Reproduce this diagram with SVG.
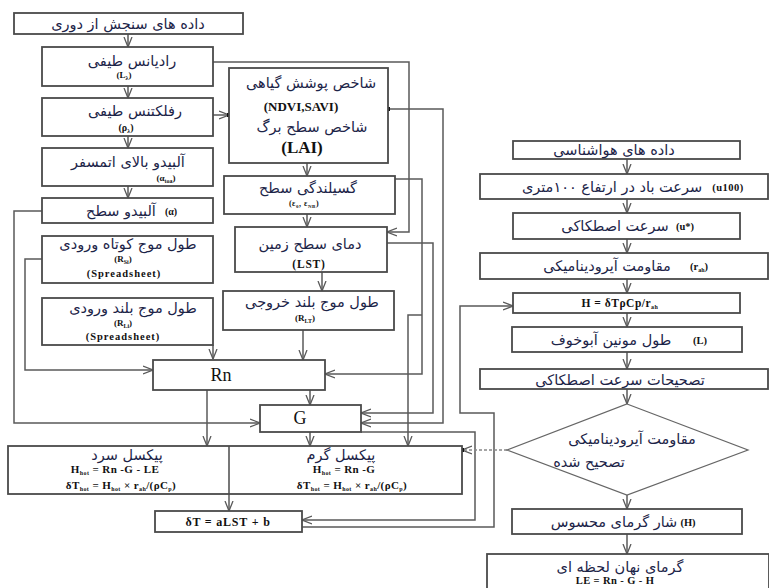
<svg xmlns="http://www.w3.org/2000/svg" width="769" height="588" viewBox="0 0 769 588">
<style>
.bx{fill:#fff;stroke:#4a4a4a;stroke-width:1.8}
.ar{fill:none;stroke:#5a5a5a;stroke-width:1.5;marker-end:url(#a)}
.fa{font-family:"DejaVu Sans",sans-serif;fill:#1c2448;text-anchor:middle;font-size:14.5px}
.la{font-family:"Liberation Serif",serif;font-weight:bold;fill:#111;text-anchor:middle}
.big{font-family:"Liberation Serif",serif;fill:#111;text-anchor:middle;font-size:18px}
</style>
<defs>
<marker id="a" viewBox="0 0 10 10" refX="10" refY="5" markerWidth="10" markerHeight="10" markerUnits="userSpaceOnUse" orient="auto">
<path d="M0,1 L10,5 L0,9" fill="none" stroke="#5a5a5a" stroke-width="1.3"/>
</marker>
</defs>
<rect width="769" height="588" fill="#fff"/>

<g id="connectors">
<path class="ar" d="M128,34 V47"/>
<path class="ar" d="M128,86 V98"/>
<path class="ar" d="M128,136 V148"/>
<path class="ar" d="M128,186 V198"/>
<path class="ar" d="M213,62 H409 V232 H387"/>
<path class="ar" d="M213,115 H229"/>
<path class="ar" d="M307,163 V176"/>
<path class="ar" d="M307,214 V227"/>
<path class="ar" d="M322,272 V291"/>
<path class="ar" d="M303,330 V360"/>
<path class="ar" d="M213,345 V359"/>
<path class="ar" d="M42,259 H25 V370 H153"/>
<path class="ar" d="M42,211 H14 V423 H260"/>
<path class="ar" d="M395,179 H422 V374 H325"/>
<path class="ar" d="M387,243 H433 V413 H361"/>
<path class="ar" d="M388,109 H443 V423 H361"/>
<path class="ar" d="M422,315 H408 V446"/>
<path class="ar" d="M310,390 V405"/>
<path class="ar" d="M207,390 V446"/>
<path class="ar" d="M310,432 V446"/>
<path class="ar" d="M229,446 V511"/>
<path class="ar" d="M361,432 H475 V520 H302"/>
<path class="ar" d="M302,527 H494 V413 H460 V306 H513"/>
<path class="ar" d="M507,450 H462" stroke-dasharray="3,2" style="stroke:#888"/>
<path class="ar" d="M627,159 V174"/>
<path class="ar" d="M627,199 V213"/>
<path class="ar" d="M627,239 V253"/>
<path class="ar" d="M627,279 V293"/>
<path class="ar" d="M627,313 V327"/>
<path class="ar" d="M627,352 V369"/>
<path class="ar" d="M627,389 V404"/>
<path class="ar" d="M627,495 V509"/>
<path class="ar" d="M627,534 V554"/>
<rect x="227" y="113" width="4" height="4" fill="#111"/>
<rect x="386" y="107" width="4" height="4" fill="#111"/>
<rect x="460" y="448" width="4" height="4" fill="#111"/>
</g>

<g id="remote-data"><rect class="bx" x="14" y="13" width="229" height="21"/>
<text class="fa" x="128" y="29">داده های سنجش از دوری</text></g>

<g id="radiance"><rect class="bx" x="42" y="47" width="171" height="39"/>
<text class="fa" x="132" y="66">رادیانس طیفی</text>
<text class="la" x="124" y="78" font-size="9">(L<tspan font-size="6" dy="2">λ</tspan><tspan dy="-2">)</tspan></text></g>

<g id="reflectance"><rect class="bx" x="42" y="98" width="171" height="38"/>
<text class="fa" x="135" y="116">رفلکتنس طیفی</text>
<text class="la" x="126" y="131" font-size="10">(ρ<tspan font-size="6" dy="2">λ</tspan><tspan dy="-2">)</tspan></text></g>

<g id="albedo-toa"><rect class="bx" x="42" y="148" width="171" height="38"/>
<text class="fa" x="128" y="167">آلبیدو بالای اتمسفر</text>
<text class="la" x="166" y="181" font-size="9">(α<tspan font-size="6" dy="2">toa</tspan><tspan dy="-2">)</tspan></text></g>

<g id="albedo-surface"><rect class="bx" x="42" y="198" width="171" height="25"/>
<text class="fa" x="121" y="216">آلبیدو سطح</text>
<text class="la" x="171" y="215" font-size="10">(α)</text></g>

<g id="shortwave-in"><rect class="bx" x="42" y="236" width="171" height="47"/>
<text class="fa" x="128" y="249">طول موج کوتاه ورودی</text>
<text class="la" x="123" y="262" font-size="9">(R<tspan font-size="6" dy="2">Si</tspan><tspan dy="-2">)</tspan></text>
<text class="la" x="124" y="277" font-size="10.5" letter-spacing="1">(Spreadsheet)</text></g>

<g id="longwave-in"><rect class="bx" x="42" y="298" width="171" height="47"/>
<text class="fa" x="133" y="313">طول موج بلند ورودی</text>
<text class="la" x="123" y="326" font-size="9">(R<tspan font-size="6" dy="2">Li</tspan><tspan dy="-2">)</tspan></text>
<text class="la" x="123" y="340" font-size="10.5" letter-spacing="1">(Spreadsheet)</text></g>

<g id="ndvi"><rect class="bx" x="229" y="68" width="159" height="95"/>
<text class="fa" x="311" y="88">شاخص پوشش گیاهی</text>
<text class="la" x="301" y="111" font-size="13">(NDVI,SAVI)</text>
<text class="fa" x="312" y="132">شاخص سطح برگ</text>
<text class="la" x="302" y="153" font-size="17">(LAI)</text></g>

<g id="emissivity"><rect class="bx" x="224" y="176" width="171" height="38"/>
<text class="fa" x="308" y="193">گسیلندگی سطح</text>
<text class="la" x="304" y="206" font-size="8" letter-spacing="0.5">(ε<tspan font-size="5" dy="1.5">0</tspan><tspan dy="-1.5">, ε</tspan><tspan font-size="5" dy="1.5">NB</tspan><tspan dy="-1.5">)</tspan></text></g>

<g id="lst"><rect class="bx" x="235" y="227" width="152" height="45"/>
<text class="fa" x="310" y="249">دمای سطح زمین</text>
<text class="la" x="309" y="268" font-size="11.5" letter-spacing="0.8">(LST)</text></g>

<g id="longwave-out"><rect class="bx" x="223" y="291" width="171" height="39"/>
<text class="fa" x="312" y="307">طول موج بلند خروجی</text>
<text class="la" x="305" y="321" font-size="9">(R<tspan font-size="6" dy="2">LT</tspan><tspan dy="-2">)</tspan></text></g>

<g id="rn"><rect class="bx" x="153" y="360" width="172" height="30"/>
<text class="big" x="221" y="381">Rn</text></g>

<g id="g"><rect class="bx" x="260" y="405" width="101" height="27"/>
<text class="big" x="300" y="424">G</text></g>

<g id="pixels"><rect class="bx" x="8" y="446" width="454" height="48"/>
<line x1="229" y1="446" x2="229" y2="494" stroke="#4a4a4a" stroke-width="1.5"/>
<text class="fa" x="127" y="460" font-size="14">پیکسل سرد</text>
<text class="la" x="115" y="473" font-size="11" letter-spacing="0.4">H<tspan font-size="6" dy="2">hot</tspan><tspan dy="-2"> = Rn -G - LE</tspan></text>
<text class="la" x="121" y="489" font-size="11" letter-spacing="0.4">δT<tspan font-size="6" dy="2">hot</tspan><tspan dy="-2"> = H</tspan><tspan font-size="6" dy="2">hot</tspan><tspan dy="-2"> × r</tspan><tspan font-size="6" dy="2">ah</tspan><tspan dy="-2">/(ρC</tspan><tspan font-size="6" dy="2">p</tspan><tspan dy="-2">)</tspan></text>
<text class="fa" x="341" y="460" font-size="14">پیکسل گرم</text>
<text class="la" x="344" y="473" font-size="11" letter-spacing="0.4">H<tspan font-size="6" dy="2">hot</tspan><tspan dy="-2"> = Rn -G</tspan></text>
<text class="la" x="352" y="489" font-size="11" letter-spacing="0.4">δT<tspan font-size="6" dy="2">hot</tspan><tspan dy="-2"> = H</tspan><tspan font-size="6" dy="2">hot</tspan><tspan dy="-2"> × r</tspan><tspan font-size="6" dy="2">ah</tspan><tspan dy="-2">/(ρC</tspan><tspan font-size="6" dy="2">p</tspan><tspan dy="-2">)</tspan></text></g>

<g id="dt"><rect class="bx" x="155" y="511" width="147" height="21"/>
<text class="la" x="228" y="526" font-size="12" letter-spacing="0.8">δT = aLST + b</text></g>

<g id="met-data"><rect class="bx" x="513" y="141" width="227" height="18"/>
<text class="fa" x="614" y="155">داده های هواشناسی</text></g>

<g id="u100"><rect class="bx" x="480" y="174" width="288" height="25"/>
<text class="fa" x="612" y="192">سرعت باد در ارتفاع ۱۰۰متری</text>
<text class="la" x="728" y="191" font-size="10.5" letter-spacing="0.5">(u100)</text></g>

<g id="ustar"><rect class="bx" x="513" y="213" width="227" height="26"/>
<text class="fa" x="615" y="231">سرعت اصطکاکی</text>
<text class="la" x="685" y="230" font-size="10.5">(u*)</text></g>

<g id="rah"><rect class="bx" x="480" y="253" width="288" height="26"/>
<text class="fa" x="607" y="271">مقاومت آیرودینامیکی</text>
<text class="la" x="699" y="270" font-size="10.5">(r<tspan font-size="6" dy="2">ah</tspan><tspan dy="-2">)</tspan></text></g>

<g id="h-eq"><rect class="bx" x="513" y="293" width="227" height="20"/>
<text class="la" x="620" y="307" font-size="11.5" letter-spacing="0.5">H = δTρCp/r<tspan font-size="6" dy="2">ah</tspan></text></g>

<g id="monin"><rect class="bx" x="512" y="327" width="230" height="25"/>
<text class="fa" x="611" y="345">طول مونین آبوخوف</text>
<text class="la" x="700" y="344" font-size="10.5">(L)</text></g>

<g id="corrections"><rect class="bx" x="480" y="369" width="288" height="20"/>
<text class="fa" x="620" y="385">تصحیحات سرعت اصطکاکی</text></g>

<g id="decision"><polygon points="627,404 748,450 627,495 507,450" fill="#fff" stroke="#666" stroke-width="1.2"/>
<text class="fa" x="632" y="444">مقاومت آیرودینامیکی</text>
<text class="fa" x="589" y="467" font-size="13.5">تصحیح شده</text></g>

<g id="sensible"><rect class="bx" x="512" y="509" width="230" height="25"/>
<text class="fa" x="614" y="527" font-size="13.5">شار گرمای محسوس</text>
<text class="la" x="688" y="526" font-size="10.5">(H)</text></g>

<g id="latent"><rect class="bx" x="487" y="554" width="282" height="36"/>
<text class="fa" x="620" y="572">گرمای نهان لحظه ای</text>
<text class="la" x="615" y="584" font-size="10.5" letter-spacing="0.4">LE = Rn - G - H</text></g>
</svg>
